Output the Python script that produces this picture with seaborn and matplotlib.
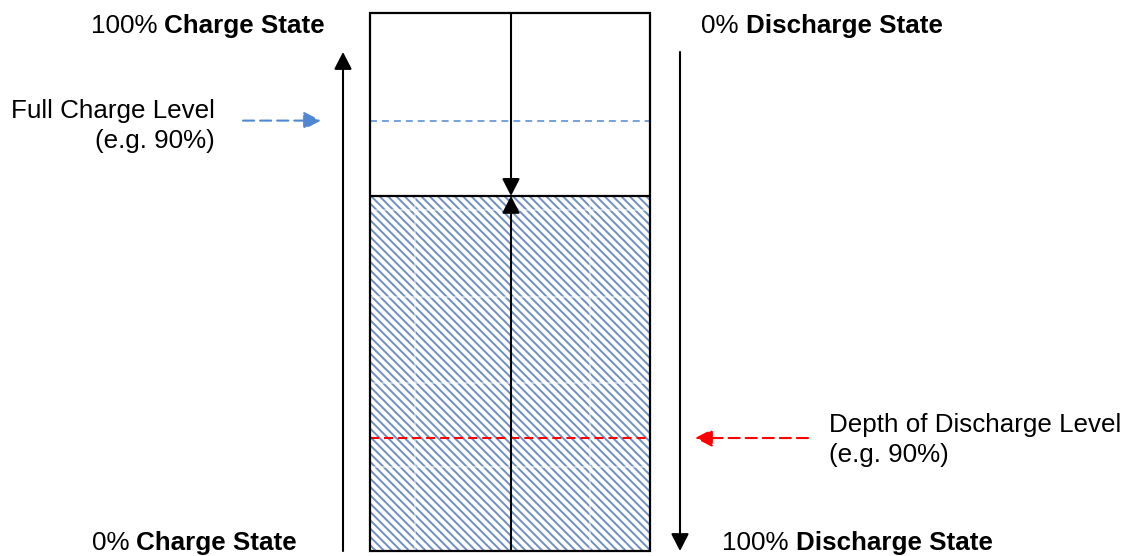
import matplotlib
matplotlib.use("Agg")
import matplotlib.pyplot as plt
from matplotlib.patches import Rectangle
import seaborn as sns

# ---- data (percent of battery capacity) ----
charge_level = 66          # current state of charge (hatched fill)
full_charge_level = 80     # blue dashed "full charge" level
dod_level = 21             # red dashed "depth of discharge" level
grid_levels = [15.6, 31.2, 47.2, 63.4]
grid_x = [415, 590]

top_left_num, top_left_bold = "100%", "Charge State"
top_right_num, top_right_bold = "0%", "Discharge State"
bot_left_num, bot_left_bold = "0%", "Charge State"
bot_right_num, bot_right_bold = "100%", "Discharge State"
full_label = ["Full Charge Level", "(e.g. 90%)"]
dod_label = ["Depth of Discharge Level", "(e.g. 90%)"]

# ---- style ----
sns.set_theme(style="white")
plt.rcParams["font.family"] = ["Liberation Sans", "DejaVu Sans"]
plt.rcParams["hatch.linewidth"] = 1.4
plt.rcParams["lines.scale_dashes"] = False

HATCH = "#6f8fc2"
BLUE = "#4f87d3"
RED = "#ff0000"
FS = 18.7

W, H = 1135, 556
fig = plt.figure(figsize=(W / 100, H / 100), dpi=100)
ax = fig.add_axes([0, 0, 1, 1])

PX_PER_PCT = 5.38
ZERO_PX = 551


def py(px):
    return (ZERO_PX - px) / PX_PER_PCT


ax.set_xlim(0, W)
ax.set_ylim(py(H), py(0))
ax.axis("off")

box_l, box_r, mid = 370, 650, 511

# hatched fill
ax.bar(x=(box_l + box_r) / 2, height=charge_level, width=box_r - box_l, bottom=0,
       color="white", edgecolor=HATCH, hatch="\\\\\\\\", linewidth=0, zorder=1)
# faint white grid visible through the fill
ax.hlines(grid_levels, box_l, box_r, colors="white", lw=1.1, alpha=0.6, zorder=1.5)
ax.vlines(grid_x, 0, charge_level, colors="white", lw=1.1, alpha=0.6, zorder=1.5)

# box outline and charge line
ax.add_patch(Rectangle((box_l, 0), box_r - box_l, 100, fill=False, lw=1.6,
                       ec="black", zorder=4))
ax.hlines(charge_level, box_l, box_r, colors="black", lw=1.6, zorder=4)

# level lines
ax.plot([box_l, box_r], [full_charge_level] * 2, color=BLUE, lw=1.1,
        dashes=(5, 3.6), zorder=3)
ax.plot([box_l, box_r], [dod_level] * 2, color=RED, lw=1.5,
        dashes=(6.5, 3.6), zorder=3)


def arrow(x0, y0, x1, y1, color="black", lw=1.5, ls="-"):
    ax.annotate("", xy=(x1, y1), xytext=(x0, y0),
                arrowprops=dict(arrowstyle="-|>,head_length=10.5,head_width=5.4",
                                mutation_scale=1, color=color, lw=lw,
                                linestyle=ls, shrinkA=0, shrinkB=0),
                zorder=5)


# center arrows
arrow(mid, 100, mid, charge_level)
arrow(mid, 0, mid, charge_level)
# side arrows
arrow(343, 0, 343, py(52))
arrow(680, py(52), 680, py(551))
# dashed pointer arrows
arrow(243, full_charge_level, 321, full_charge_level, color=BLUE, lw=1.5,
      ls=(0, (8, 4.3)))
arrow(808, dod_level, 695, dod_level, color=RED, lw=1.5, ls=(0, (8, 4.3)))


def mixed(x, y_px, num, bold, ha):
    if ha == "left":
        t1 = ax.text(x, py(y_px), num, ha="left", va="baseline", fontsize=FS,
                     color="black")
        ax.annotate(bold, xy=(1, 0), xycoords=t1, xytext=(5.2, 0),
                    textcoords="offset points", ha="left", va="bottom",
                    fontsize=FS, fontweight="bold", color="black")
    else:
        t1 = ax.text(x, py(y_px), bold, ha="right", va="baseline", fontsize=FS,
                     fontweight="bold", color="black")
        ax.annotate(num, xy=(0, 0), xycoords=t1, xytext=(-5.2, 0),
                    textcoords="offset points", ha="right", va="bottom",
                    fontsize=FS, color="black")


mixed(325, 33, top_left_num, top_left_bold, "right")
mixed(701, 33, top_right_num, top_right_bold, "left")
mixed(297, 550, bot_left_num, bot_left_bold, "right")
mixed(722, 550, bot_right_num, bot_right_bold, "left")

ax.text(215, py(118), full_label[0], ha="right", va="baseline", fontsize=FS, color="black")
ax.text(215, py(148), full_label[1], ha="right", va="baseline", fontsize=FS, color="black")
ax.text(829, py(432), dod_label[0], ha="left", va="baseline", fontsize=FS, color="black")
ax.text(829, py(462), dod_label[1], ha="left", va="baseline", fontsize=FS, color="black")

fig.savefig("out.png", dpi=100)
